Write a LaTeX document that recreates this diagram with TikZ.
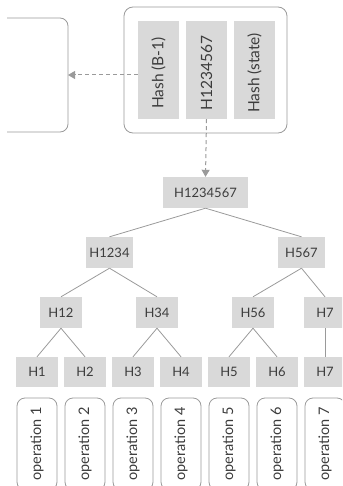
\documentclass[tikz,border=0pt]{standalone}
\usepackage{fontspec}
\setmainfont{Lato}
\usetikzlibrary{arrows.meta}
\definecolor{boxgray}{HTML}{D9D9D9}
\definecolor{linegray}{HTML}{9A9A9A}
\definecolor{textgray}{HTML}{3C3C3C}
\tikzset{
  hbox/.style={fill=boxgray, inner sep=0pt, minimum height=31pt, minimum width=42pt,
    text=textgray, font=\fontsize{13}{15}\selectfont},
  vbox/.style={fill=boxgray, inner sep=0pt, minimum width=41pt, minimum height=98pt},
  vlabel/.style={rotate=90, text=textgray, font=\fontsize{14.5}{16}\selectfont},
  hlabel/.style={vlabel, font=\fontsize{15.5}{17}\selectfont},
  opbox/.style={draw=linegray, line width=0.8pt, rounded corners=8pt, inner sep=0pt,
    minimum width=40pt, minimum height=92pt},
  edge/.style={draw=linegray, line width=0.8pt},
  dasharrow/.style={draw=linegray, line width=1pt, dashed, dash pattern=on 4pt off 3pt,
    -{Triangle[length=7pt,width=8pt,fill=linegray]}},
}
\begin{document}
\begin{tikzpicture}[x=1pt,y=-1pt]
\useasboundingbox (0,0) rectangle (342,486);
\clip (0,0) rectangle (342,486);

% previous block (only its right part is in view)
\draw[edge, rounded corners=8pt] (7,18) -- (68,18) -- (68,132) -- (7,132);
\coordinate (prev) at (68,75);

% current block header
\node[draw=linegray, line width=0.8pt, rounded corners=9pt, minimum width=163pt,
  minimum height=126pt, inner sep=0pt] (block) at (205.5,70) {};
\node[vbox] (hprev) at (158.5,70) {};
\node[hlabel] at ([yshift=-3pt]hprev.center) {Hash (B-1)};
\node[vbox] (hroot) at (206.5,70) {};
\node[hlabel] at ([yshift=-3pt]hroot.center) {H1234567};
\node[vbox] (hstate) at (254.5,70) {};
\node[hlabel] at ([yshift=-3pt]hstate.center) {Hash (state)};

% Merkle tree
\node[hbox, minimum width=85pt] (r) at (205.5,192.5) {H1234567};
\node[hbox, minimum width=47pt] (a) at (109.5,252.5) {H1234};
\node[hbox, minimum width=47pt] (b) at (301.5,252.5) {H567};
\node[hbox] (a1) at (61,312.5) {H12};
\node[hbox] (a2) at (157,312.5) {H34};
\node[hbox] (b1) at (253,312.5) {H56};
\node[hbox] (b2) at (325,312.5) {H7};
\foreach \i/\x in {1/37,2/85,3/133,4/181,5/229,6/277,7/325}{
  \node[hbox, minimum height=30pt] (h\i) at (\x,372) {H\i};
  \node[opbox] (op\i) at (\x,444) {};
  \node[vlabel] at (op\i) {operation \i};
}

% connectors
\draw[dasharrow] ([yshift=-5pt]hprev.west) -- (prev);
\draw[dasharrow] (hroot.south) -- (r.north);
\draw[edge] (r.south) -- (a.north);
\draw[edge] (r.south) -- (b.north);
\draw[edge] (a.south) -- (a1.north);
\draw[edge] (a.south) -- (a2.north);
\draw[edge] (b.south) -- (b1.north);
\draw[edge] (b.south) -- (b2.north);
\draw[edge] (a1.south) -- (h1.north);
\draw[edge] (a1.south) -- (h2.north);
\draw[edge] (a2.south) -- (h3.north);
\draw[edge] (a2.south) -- (h4.north);
\draw[edge] (b1.south) -- (h5.north);
\draw[edge] (b1.south) -- (h6.north);
\draw[edge] (b2.south) -- (h7.north);
\end{tikzpicture}
\end{document}
